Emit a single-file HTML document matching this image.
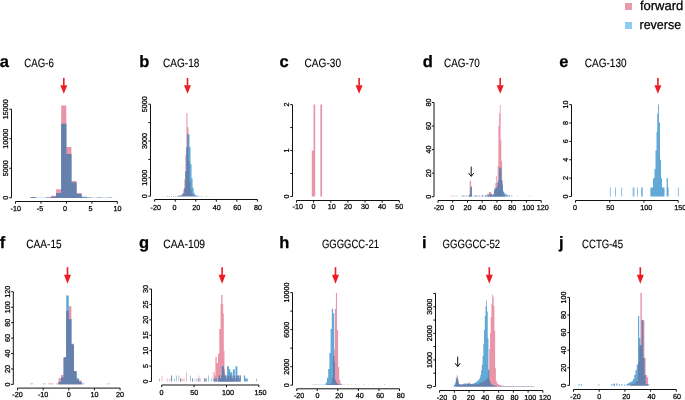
<!DOCTYPE html>
<html><head><meta charset="utf-8"><style>
html,body{margin:0;padding:0;background:#fff;}
body{width:685px;height:400px;overflow:hidden;}
svg{display:block;will-change:transform;}
text{font-family:"Liberation Sans",sans-serif;fill:#000;stroke:#000;stroke-width:0.25px;text-rendering:geometricPrecision;}
.tt{stroke-width:0.12px;}
</style></head><body>
<svg xmlns="http://www.w3.org/2000/svg" width="685" height="400" viewBox="0 0 685 400">
<rect width="685" height="400" fill="#fff"/>
<rect x="625.00" y="3.00" width="7.00" height="7.00" fill="#e99aab"/>
<rect x="625.00" y="22.00" width="7.00" height="7.00" fill="#8ecdf1"/>
<text x="639.90" y="10.30" font-size="13.0" text-anchor="start" font-weight="normal" textLength="43.4" lengthAdjust="spacingAndGlyphs">forward</text>
<text x="639.50" y="29.00" font-size="13.0" text-anchor="start" font-weight="normal" textLength="41.6" lengthAdjust="spacingAndGlyphs">reverse</text>
<text x="-0.20" y="66.50" font-size="16.5" text-anchor="start" font-weight="bold">a</text>
<text x="24.30" y="66.50" font-size="12" text-anchor="start" font-weight="normal" textLength="29.6" lengthAdjust="spacingAndGlyphs" class="tt">CAG-6</text>
<rect x="63.00" y="77.90" width="1.6" height="7.80" fill="#ec1c24"/>
<polygon points="60.30,85.20 67.30,85.20 63.80,93.80" fill="#ec1c24"/>
<line x1="11.50" y1="197.80" x2="11.50" y2="109.20" stroke="#111" stroke-width="1.0"/>
<line x1="9.30" y1="197.80" x2="11.50" y2="197.80" stroke="#111" stroke-width="1.0"/>
<line x1="9.30" y1="168.27" x2="11.50" y2="168.27" stroke="#111" stroke-width="1.0"/>
<line x1="9.30" y1="138.73" x2="11.50" y2="138.73" stroke="#111" stroke-width="1.0"/>
<line x1="9.30" y1="109.20" x2="11.50" y2="109.20" stroke="#111" stroke-width="1.0"/>
<text transform="translate(8.30,197.80) rotate(-90)" font-size="7.2" text-anchor="middle">0</text>
<text transform="translate(8.30,168.27) rotate(-90)" font-size="7.2" text-anchor="middle">5000</text>
<text transform="translate(8.30,138.73) rotate(-90)" font-size="7.2" text-anchor="middle">10000</text>
<text transform="translate(8.30,109.20) rotate(-90)" font-size="7.2" text-anchor="middle">15000</text>
<line x1="15.50" y1="201.50" x2="117.40" y2="201.50" stroke="#111" stroke-width="1.0"/>
<line x1="15.50" y1="201.50" x2="15.50" y2="203.70" stroke="#111" stroke-width="1.0"/>
<line x1="40.98" y1="201.50" x2="40.98" y2="203.70" stroke="#111" stroke-width="1.0"/>
<line x1="66.45" y1="201.50" x2="66.45" y2="203.70" stroke="#111" stroke-width="1.0"/>
<line x1="91.92" y1="201.50" x2="91.92" y2="203.70" stroke="#111" stroke-width="1.0"/>
<line x1="117.40" y1="201.50" x2="117.40" y2="203.70" stroke="#111" stroke-width="1.0"/>
<text x="15.80" y="211.40" font-size="7.2" text-anchor="middle" font-weight="normal">-10</text>
<text x="39.98" y="211.40" font-size="7.2" text-anchor="middle" font-weight="normal">-5</text>
<text x="65.05" y="211.40" font-size="7.2" text-anchor="middle" font-weight="normal">0</text>
<text x="90.52" y="211.40" font-size="7.2" text-anchor="middle" font-weight="normal">5</text>
<text x="117.60" y="211.40" font-size="7.2" text-anchor="middle" font-weight="normal">10</text>
<text x="139.20" y="66.50" font-size="16.5" text-anchor="start" font-weight="bold">b</text>
<text x="163.10" y="66.50" font-size="12" text-anchor="start" font-weight="normal" textLength="36.3" lengthAdjust="spacingAndGlyphs" class="tt">CAG-18</text>
<rect x="186.70" y="77.90" width="1.6" height="7.80" fill="#ec1c24"/>
<polygon points="184.00,85.20 191.00,85.20 187.50,93.80" fill="#ec1c24"/>
<line x1="150.50" y1="196.20" x2="150.50" y2="104.20" stroke="#111" stroke-width="1.0"/>
<line x1="148.30" y1="196.20" x2="150.50" y2="196.20" stroke="#111" stroke-width="1.0"/>
<line x1="148.30" y1="177.80" x2="150.50" y2="177.80" stroke="#111" stroke-width="1.0"/>
<line x1="148.30" y1="159.40" x2="150.50" y2="159.40" stroke="#111" stroke-width="1.0"/>
<line x1="148.30" y1="141.00" x2="150.50" y2="141.00" stroke="#111" stroke-width="1.0"/>
<line x1="148.30" y1="122.60" x2="150.50" y2="122.60" stroke="#111" stroke-width="1.0"/>
<line x1="148.30" y1="104.20" x2="150.50" y2="104.20" stroke="#111" stroke-width="1.0"/>
<text transform="translate(147.30,196.20) rotate(-90)" font-size="7.2" text-anchor="middle">0</text>
<text transform="translate(147.30,177.80) rotate(-90)" font-size="7.2" text-anchor="middle">1000</text>
<text transform="translate(147.30,141.00) rotate(-90)" font-size="7.2" text-anchor="middle">3000</text>
<text transform="translate(147.30,104.20) rotate(-90)" font-size="7.2" text-anchor="middle">5000</text>
<line x1="154.70" y1="199.50" x2="257.40" y2="199.50" stroke="#111" stroke-width="1.0"/>
<line x1="154.70" y1="199.50" x2="154.70" y2="201.70" stroke="#111" stroke-width="1.0"/>
<line x1="175.24" y1="199.50" x2="175.24" y2="201.70" stroke="#111" stroke-width="1.0"/>
<line x1="195.78" y1="199.50" x2="195.78" y2="201.70" stroke="#111" stroke-width="1.0"/>
<line x1="216.32" y1="199.50" x2="216.32" y2="201.70" stroke="#111" stroke-width="1.0"/>
<line x1="236.86" y1="199.50" x2="236.86" y2="201.70" stroke="#111" stroke-width="1.0"/>
<line x1="257.40" y1="199.50" x2="257.40" y2="201.70" stroke="#111" stroke-width="1.0"/>
<text x="155.70" y="209.80" font-size="7.2" text-anchor="middle" font-weight="normal">-20</text>
<text x="174.44" y="209.80" font-size="7.2" text-anchor="middle" font-weight="normal">0</text>
<text x="196.18" y="209.80" font-size="7.2" text-anchor="middle" font-weight="normal">20</text>
<text x="216.77" y="209.80" font-size="7.2" text-anchor="middle" font-weight="normal">40</text>
<text x="237.21" y="209.80" font-size="7.2" text-anchor="middle" font-weight="normal">60</text>
<text x="258.00" y="209.80" font-size="7.2" text-anchor="middle" font-weight="normal">80</text>
<text x="279.60" y="66.50" font-size="16.5" text-anchor="start" font-weight="bold">c</text>
<text x="304.60" y="66.50" font-size="12" text-anchor="start" font-weight="normal" textLength="36.4" lengthAdjust="spacingAndGlyphs" class="tt">CAG-30</text>
<rect x="358.30" y="77.90" width="1.6" height="7.80" fill="#ec1c24"/>
<polygon points="355.60,85.20 362.60,85.20 359.10,93.80" fill="#ec1c24"/>
<line x1="292.50" y1="196.50" x2="292.50" y2="104.60" stroke="#111" stroke-width="1.0"/>
<line x1="290.30" y1="196.50" x2="292.50" y2="196.50" stroke="#111" stroke-width="1.0"/>
<line x1="290.30" y1="173.53" x2="292.50" y2="173.53" stroke="#111" stroke-width="1.0"/>
<line x1="290.30" y1="150.55" x2="292.50" y2="150.55" stroke="#111" stroke-width="1.0"/>
<line x1="290.30" y1="127.57" x2="292.50" y2="127.57" stroke="#111" stroke-width="1.0"/>
<line x1="290.30" y1="104.60" x2="292.50" y2="104.60" stroke="#111" stroke-width="1.0"/>
<text transform="translate(289.30,196.50) rotate(-90)" font-size="7.2" text-anchor="middle">0</text>
<text transform="translate(289.30,150.55) rotate(-90)" font-size="7.2" text-anchor="middle">1</text>
<text transform="translate(289.30,104.60) rotate(-90)" font-size="7.2" text-anchor="middle">2</text>
<line x1="296.50" y1="200.50" x2="399.30" y2="200.50" stroke="#111" stroke-width="1.0"/>
<line x1="296.50" y1="200.50" x2="296.50" y2="202.70" stroke="#111" stroke-width="1.0"/>
<line x1="313.63" y1="200.50" x2="313.63" y2="202.70" stroke="#111" stroke-width="1.0"/>
<line x1="330.77" y1="200.50" x2="330.77" y2="202.70" stroke="#111" stroke-width="1.0"/>
<line x1="347.90" y1="200.50" x2="347.90" y2="202.70" stroke="#111" stroke-width="1.0"/>
<line x1="365.03" y1="200.50" x2="365.03" y2="202.70" stroke="#111" stroke-width="1.0"/>
<line x1="382.17" y1="200.50" x2="382.17" y2="202.70" stroke="#111" stroke-width="1.0"/>
<line x1="399.30" y1="200.50" x2="399.30" y2="202.70" stroke="#111" stroke-width="1.0"/>
<text x="297.80" y="209.40" font-size="7.2" text-anchor="middle" font-weight="normal">-10</text>
<text x="313.43" y="209.40" font-size="7.2" text-anchor="middle" font-weight="normal">0</text>
<text x="331.67" y="209.40" font-size="7.2" text-anchor="middle" font-weight="normal">10</text>
<text x="348.00" y="209.40" font-size="7.2" text-anchor="middle" font-weight="normal">20</text>
<text x="365.03" y="209.40" font-size="7.2" text-anchor="middle" font-weight="normal">30</text>
<text x="381.97" y="209.40" font-size="7.2" text-anchor="middle" font-weight="normal">40</text>
<text x="399.30" y="209.40" font-size="7.2" text-anchor="middle" font-weight="normal">50</text>
<text x="422.80" y="66.50" font-size="16.5" text-anchor="start" font-weight="bold">d</text>
<text x="444.10" y="66.50" font-size="12" text-anchor="start" font-weight="normal" textLength="35.8" lengthAdjust="spacingAndGlyphs" class="tt">CAG-70</text>
<rect x="499.40" y="77.90" width="1.6" height="7.80" fill="#ec1c24"/>
<polygon points="496.70,85.20 503.70,85.20 500.20,93.80" fill="#ec1c24"/>
<line x1="434.00" y1="196.70" x2="434.00" y2="102.50" stroke="#111" stroke-width="1.0"/>
<line x1="431.80" y1="196.70" x2="434.00" y2="196.70" stroke="#111" stroke-width="1.0"/>
<line x1="431.80" y1="173.15" x2="434.00" y2="173.15" stroke="#111" stroke-width="1.0"/>
<line x1="431.80" y1="149.60" x2="434.00" y2="149.60" stroke="#111" stroke-width="1.0"/>
<line x1="431.80" y1="126.05" x2="434.00" y2="126.05" stroke="#111" stroke-width="1.0"/>
<line x1="431.80" y1="102.50" x2="434.00" y2="102.50" stroke="#111" stroke-width="1.0"/>
<text transform="translate(430.90,196.70) rotate(-90)" font-size="7.2" text-anchor="middle">0</text>
<text transform="translate(430.90,173.15) rotate(-90)" font-size="7.2" text-anchor="middle">20</text>
<text transform="translate(430.90,149.60) rotate(-90)" font-size="7.2" text-anchor="middle">40</text>
<text transform="translate(430.90,126.05) rotate(-90)" font-size="7.2" text-anchor="middle">60</text>
<text transform="translate(430.90,102.50) rotate(-90)" font-size="7.2" text-anchor="middle">80</text>
<line x1="438.00" y1="200.50" x2="541.20" y2="200.50" stroke="#111" stroke-width="1.0"/>
<line x1="438.00" y1="200.50" x2="438.00" y2="202.70" stroke="#111" stroke-width="1.0"/>
<line x1="452.74" y1="200.50" x2="452.74" y2="202.70" stroke="#111" stroke-width="1.0"/>
<line x1="467.49" y1="200.50" x2="467.49" y2="202.70" stroke="#111" stroke-width="1.0"/>
<line x1="482.23" y1="200.50" x2="482.23" y2="202.70" stroke="#111" stroke-width="1.0"/>
<line x1="496.97" y1="200.50" x2="496.97" y2="202.70" stroke="#111" stroke-width="1.0"/>
<line x1="511.71" y1="200.50" x2="511.71" y2="202.70" stroke="#111" stroke-width="1.0"/>
<line x1="526.46" y1="200.50" x2="526.46" y2="202.70" stroke="#111" stroke-width="1.0"/>
<line x1="541.20" y1="200.50" x2="541.20" y2="202.70" stroke="#111" stroke-width="1.0"/>
<text x="438.85" y="209.50" font-size="7.2" text-anchor="middle" font-weight="normal">-20</text>
<text x="452.14" y="209.50" font-size="7.2" text-anchor="middle" font-weight="normal">0</text>
<text x="467.49" y="209.50" font-size="7.2" text-anchor="middle" font-weight="normal">20</text>
<text x="482.03" y="209.50" font-size="7.2" text-anchor="middle" font-weight="normal">40</text>
<text x="497.47" y="209.50" font-size="7.2" text-anchor="middle" font-weight="normal">60</text>
<text x="512.16" y="209.50" font-size="7.2" text-anchor="middle" font-weight="normal">80</text>
<text x="528.16" y="209.50" font-size="7.2" text-anchor="middle" font-weight="normal">100</text>
<text x="542.70" y="209.50" font-size="7.2" text-anchor="middle" font-weight="normal">120</text>
<line x1="471.20" y1="166.60" x2="471.20" y2="176.10" stroke="#111" stroke-width="1.0"/>
<polyline points="468.60,173.10 471.20,176.40 473.80,173.10" fill="none" stroke="#111" stroke-width="1.0"/>
<text x="559.30" y="66.50" font-size="16.5" text-anchor="start" font-weight="bold">e</text>
<text x="584.80" y="66.50" font-size="12" text-anchor="start" font-weight="normal" textLength="41.8" lengthAdjust="spacingAndGlyphs" class="tt">CAG-130</text>
<rect x="657.10" y="77.90" width="1.6" height="7.80" fill="#ec1c24"/>
<polygon points="654.40,85.20 661.40,85.20 657.90,93.80" fill="#ec1c24"/>
<line x1="571.50" y1="196.50" x2="571.50" y2="104.60" stroke="#111" stroke-width="1.0"/>
<line x1="569.30" y1="196.50" x2="571.50" y2="196.50" stroke="#111" stroke-width="1.0"/>
<line x1="569.30" y1="178.12" x2="571.50" y2="178.12" stroke="#111" stroke-width="1.0"/>
<line x1="569.30" y1="159.74" x2="571.50" y2="159.74" stroke="#111" stroke-width="1.0"/>
<line x1="569.30" y1="141.36" x2="571.50" y2="141.36" stroke="#111" stroke-width="1.0"/>
<line x1="569.30" y1="122.98" x2="571.50" y2="122.98" stroke="#111" stroke-width="1.0"/>
<line x1="569.30" y1="104.60" x2="571.50" y2="104.60" stroke="#111" stroke-width="1.0"/>
<text transform="translate(568.30,196.50) rotate(-90)" font-size="7.2" text-anchor="middle">0</text>
<text transform="translate(568.30,178.12) rotate(-90)" font-size="7.2" text-anchor="middle">2</text>
<text transform="translate(568.30,159.74) rotate(-90)" font-size="7.2" text-anchor="middle">4</text>
<text transform="translate(568.30,141.36) rotate(-90)" font-size="7.2" text-anchor="middle">6</text>
<text transform="translate(568.30,122.98) rotate(-90)" font-size="7.2" text-anchor="middle">8</text>
<text transform="translate(568.30,104.60) rotate(-90)" font-size="7.2" text-anchor="middle">10</text>
<line x1="575.50" y1="200.50" x2="678.20" y2="200.50" stroke="#111" stroke-width="1.0"/>
<line x1="575.50" y1="200.50" x2="575.50" y2="202.70" stroke="#111" stroke-width="1.0"/>
<line x1="609.73" y1="200.50" x2="609.73" y2="202.70" stroke="#111" stroke-width="1.0"/>
<line x1="643.97" y1="200.50" x2="643.97" y2="202.70" stroke="#111" stroke-width="1.0"/>
<line x1="678.20" y1="200.50" x2="678.20" y2="202.70" stroke="#111" stroke-width="1.0"/>
<text x="575.05" y="209.70" font-size="7.2" text-anchor="middle" font-weight="normal">0</text>
<text x="610.28" y="209.70" font-size="7.2" text-anchor="middle" font-weight="normal">50</text>
<text x="646.17" y="209.70" font-size="7.2" text-anchor="middle" font-weight="normal">100</text>
<text x="680.15" y="209.70" font-size="7.2" text-anchor="middle" font-weight="normal">150</text>
<text x="-0.30" y="248.30" font-size="16.5" text-anchor="start" font-weight="bold">f</text>
<text x="26.30" y="248.30" font-size="12" text-anchor="start" font-weight="normal" textLength="35.4" lengthAdjust="spacingAndGlyphs" class="tt">CAA-15</text>
<rect x="66.70" y="267.20" width="1.6" height="8.00" fill="#ec1c24"/>
<polygon points="64.00,274.70 71.00,274.70 67.50,283.80" fill="#ec1c24"/>
<line x1="13.30" y1="384.40" x2="13.30" y2="291.80" stroke="#111" stroke-width="1.0"/>
<line x1="11.10" y1="384.40" x2="13.30" y2="384.40" stroke="#111" stroke-width="1.0"/>
<line x1="11.10" y1="368.97" x2="13.30" y2="368.97" stroke="#111" stroke-width="1.0"/>
<line x1="11.10" y1="353.53" x2="13.30" y2="353.53" stroke="#111" stroke-width="1.0"/>
<line x1="11.10" y1="338.10" x2="13.30" y2="338.10" stroke="#111" stroke-width="1.0"/>
<line x1="11.10" y1="322.67" x2="13.30" y2="322.67" stroke="#111" stroke-width="1.0"/>
<line x1="11.10" y1="307.23" x2="13.30" y2="307.23" stroke="#111" stroke-width="1.0"/>
<line x1="11.10" y1="291.80" x2="13.30" y2="291.80" stroke="#111" stroke-width="1.0"/>
<text transform="translate(9.90,384.40) rotate(-90)" font-size="7.2" text-anchor="middle">0</text>
<text transform="translate(9.90,368.97) rotate(-90)" font-size="7.2" text-anchor="middle">20</text>
<text transform="translate(9.90,353.53) rotate(-90)" font-size="7.2" text-anchor="middle">40</text>
<text transform="translate(9.90,338.10) rotate(-90)" font-size="7.2" text-anchor="middle">60</text>
<text transform="translate(9.90,322.67) rotate(-90)" font-size="7.2" text-anchor="middle">80</text>
<text transform="translate(9.90,307.23) rotate(-90)" font-size="7.2" text-anchor="middle">100</text>
<text transform="translate(9.90,291.80) rotate(-90)" font-size="7.2" text-anchor="middle">120</text>
<line x1="17.50" y1="388.10" x2="120.10" y2="388.10" stroke="#111" stroke-width="1.0"/>
<line x1="17.50" y1="388.10" x2="17.50" y2="390.30" stroke="#111" stroke-width="1.0"/>
<line x1="43.15" y1="388.10" x2="43.15" y2="390.30" stroke="#111" stroke-width="1.0"/>
<line x1="68.80" y1="388.10" x2="68.80" y2="390.30" stroke="#111" stroke-width="1.0"/>
<line x1="94.45" y1="388.10" x2="94.45" y2="390.30" stroke="#111" stroke-width="1.0"/>
<line x1="120.10" y1="388.10" x2="120.10" y2="390.30" stroke="#111" stroke-width="1.0"/>
<text x="17.50" y="396.80" font-size="7.2" text-anchor="middle" font-weight="normal">-20</text>
<text x="43.15" y="396.80" font-size="7.2" text-anchor="middle" font-weight="normal">-10</text>
<text x="68.80" y="396.80" font-size="7.2" text-anchor="middle" font-weight="normal">0</text>
<text x="94.45" y="396.80" font-size="7.2" text-anchor="middle" font-weight="normal">10</text>
<text x="120.10" y="396.80" font-size="7.2" text-anchor="middle" font-weight="normal">20</text>
<text x="139.10" y="248.30" font-size="16.5" text-anchor="start" font-weight="bold">g</text>
<text x="163.30" y="248.30" font-size="12" text-anchor="start" font-weight="normal" textLength="41.8" lengthAdjust="spacingAndGlyphs" class="tt">CAA-109</text>
<rect x="221.30" y="267.20" width="1.6" height="8.00" fill="#ec1c24"/>
<polygon points="218.60,274.70 225.60,274.70 222.10,283.80" fill="#ec1c24"/>
<line x1="151.50" y1="381.50" x2="151.50" y2="289.00" stroke="#111" stroke-width="1.0"/>
<line x1="149.30" y1="381.50" x2="151.50" y2="381.50" stroke="#111" stroke-width="1.0"/>
<line x1="149.30" y1="366.08" x2="151.50" y2="366.08" stroke="#111" stroke-width="1.0"/>
<line x1="149.30" y1="350.67" x2="151.50" y2="350.67" stroke="#111" stroke-width="1.0"/>
<line x1="149.30" y1="335.25" x2="151.50" y2="335.25" stroke="#111" stroke-width="1.0"/>
<line x1="149.30" y1="319.83" x2="151.50" y2="319.83" stroke="#111" stroke-width="1.0"/>
<line x1="149.30" y1="304.42" x2="151.50" y2="304.42" stroke="#111" stroke-width="1.0"/>
<line x1="149.30" y1="289.00" x2="151.50" y2="289.00" stroke="#111" stroke-width="1.0"/>
<text transform="translate(148.30,381.50) rotate(-90)" font-size="7.2" text-anchor="middle">0</text>
<text transform="translate(148.30,366.08) rotate(-90)" font-size="7.2" text-anchor="middle">5</text>
<text transform="translate(148.30,350.67) rotate(-90)" font-size="7.2" text-anchor="middle">10</text>
<text transform="translate(148.30,335.25) rotate(-90)" font-size="7.2" text-anchor="middle">15</text>
<text transform="translate(148.30,319.83) rotate(-90)" font-size="7.2" text-anchor="middle">20</text>
<text transform="translate(148.30,304.42) rotate(-90)" font-size="7.2" text-anchor="middle">25</text>
<text transform="translate(148.30,289.00) rotate(-90)" font-size="7.2" text-anchor="middle">30</text>
<line x1="161.70" y1="385.00" x2="258.90" y2="385.00" stroke="#111" stroke-width="1.0"/>
<line x1="161.70" y1="385.00" x2="161.70" y2="387.20" stroke="#111" stroke-width="1.0"/>
<line x1="194.10" y1="385.00" x2="194.10" y2="387.20" stroke="#111" stroke-width="1.0"/>
<line x1="226.50" y1="385.00" x2="226.50" y2="387.20" stroke="#111" stroke-width="1.0"/>
<line x1="258.90" y1="385.00" x2="258.90" y2="387.20" stroke="#111" stroke-width="1.0"/>
<text x="161.40" y="394.50" font-size="7.2" text-anchor="middle" font-weight="normal">0</text>
<text x="194.35" y="394.50" font-size="7.2" text-anchor="middle" font-weight="normal">50</text>
<text x="228.00" y="394.50" font-size="7.2" text-anchor="middle" font-weight="normal">100</text>
<text x="260.50" y="394.50" font-size="7.2" text-anchor="middle" font-weight="normal">150</text>
<text x="279.20" y="248.40" font-size="16.5" text-anchor="start" font-weight="bold">h</text>
<text x="321.90" y="248.30" font-size="12" text-anchor="start" font-weight="normal" textLength="57.1" lengthAdjust="spacingAndGlyphs" class="tt">GGGGCC-21</text>
<rect x="334.70" y="267.20" width="1.6" height="8.00" fill="#ec1c24"/>
<polygon points="332.00,274.70 339.00,274.70 335.50,283.80" fill="#ec1c24"/>
<line x1="292.50" y1="385.20" x2="292.50" y2="292.60" stroke="#111" stroke-width="1.0"/>
<line x1="290.30" y1="385.20" x2="292.50" y2="385.20" stroke="#111" stroke-width="1.0"/>
<line x1="290.30" y1="366.68" x2="292.50" y2="366.68" stroke="#111" stroke-width="1.0"/>
<line x1="290.30" y1="348.16" x2="292.50" y2="348.16" stroke="#111" stroke-width="1.0"/>
<line x1="290.30" y1="329.64" x2="292.50" y2="329.64" stroke="#111" stroke-width="1.0"/>
<line x1="290.30" y1="311.12" x2="292.50" y2="311.12" stroke="#111" stroke-width="1.0"/>
<line x1="290.30" y1="292.60" x2="292.50" y2="292.60" stroke="#111" stroke-width="1.0"/>
<text transform="translate(289.30,385.20) rotate(-90)" font-size="7.2" text-anchor="middle">0</text>
<text transform="translate(289.30,366.68) rotate(-90)" font-size="7.2" text-anchor="middle">2000</text>
<text transform="translate(289.30,329.64) rotate(-90)" font-size="7.2" text-anchor="middle">6000</text>
<text transform="translate(289.30,292.60) rotate(-90)" font-size="7.2" text-anchor="middle">10000</text>
<line x1="296.70" y1="388.80" x2="399.50" y2="388.80" stroke="#111" stroke-width="1.0"/>
<line x1="296.70" y1="388.80" x2="296.70" y2="391.00" stroke="#111" stroke-width="1.0"/>
<line x1="317.26" y1="388.80" x2="317.26" y2="391.00" stroke="#111" stroke-width="1.0"/>
<line x1="337.82" y1="388.80" x2="337.82" y2="391.00" stroke="#111" stroke-width="1.0"/>
<line x1="358.38" y1="388.80" x2="358.38" y2="391.00" stroke="#111" stroke-width="1.0"/>
<line x1="378.94" y1="388.80" x2="378.94" y2="391.00" stroke="#111" stroke-width="1.0"/>
<line x1="399.50" y1="388.80" x2="399.50" y2="391.00" stroke="#111" stroke-width="1.0"/>
<text x="299.15" y="398.40" font-size="7.2" text-anchor="middle" font-weight="normal">-20</text>
<text x="317.41" y="398.40" font-size="7.2" text-anchor="middle" font-weight="normal">0</text>
<text x="339.17" y="398.40" font-size="7.2" text-anchor="middle" font-weight="normal">20</text>
<text x="359.68" y="398.40" font-size="7.2" text-anchor="middle" font-weight="normal">40</text>
<text x="380.14" y="398.40" font-size="7.2" text-anchor="middle" font-weight="normal">60</text>
<text x="400.70" y="398.40" font-size="7.2" text-anchor="middle" font-weight="normal">80</text>
<text x="422.00" y="248.40" font-size="16.5" text-anchor="start" font-weight="bold">i</text>
<text x="442.60" y="248.30" font-size="12" text-anchor="start" font-weight="normal" textLength="57.5" lengthAdjust="spacingAndGlyphs" class="tt">GGGGCC-52</text>
<rect x="488.50" y="267.20" width="1.6" height="8.00" fill="#ec1c24"/>
<polygon points="485.80,274.70 492.80,274.70 489.30,283.80" fill="#ec1c24"/>
<line x1="435.50" y1="386.50" x2="435.50" y2="293.50" stroke="#111" stroke-width="1.0"/>
<line x1="433.30" y1="386.50" x2="435.50" y2="386.50" stroke="#111" stroke-width="1.0"/>
<line x1="433.30" y1="373.21" x2="435.50" y2="373.21" stroke="#111" stroke-width="1.0"/>
<line x1="433.30" y1="359.93" x2="435.50" y2="359.93" stroke="#111" stroke-width="1.0"/>
<line x1="433.30" y1="346.64" x2="435.50" y2="346.64" stroke="#111" stroke-width="1.0"/>
<line x1="433.30" y1="333.36" x2="435.50" y2="333.36" stroke="#111" stroke-width="1.0"/>
<line x1="433.30" y1="320.07" x2="435.50" y2="320.07" stroke="#111" stroke-width="1.0"/>
<line x1="433.30" y1="306.79" x2="435.50" y2="306.79" stroke="#111" stroke-width="1.0"/>
<line x1="433.30" y1="293.50" x2="435.50" y2="293.50" stroke="#111" stroke-width="1.0"/>
<text transform="translate(432.30,386.50) rotate(-90)" font-size="7.2" text-anchor="middle">0</text>
<text transform="translate(432.30,359.93) rotate(-90)" font-size="7.2" text-anchor="middle">1000</text>
<text transform="translate(432.30,333.36) rotate(-90)" font-size="7.2" text-anchor="middle">2000</text>
<text transform="translate(432.30,306.79) rotate(-90)" font-size="7.2" text-anchor="middle">3000</text>
<line x1="439.60" y1="390.50" x2="542.90" y2="390.50" stroke="#111" stroke-width="1.0"/>
<line x1="439.60" y1="390.50" x2="439.60" y2="392.70" stroke="#111" stroke-width="1.0"/>
<line x1="454.36" y1="390.50" x2="454.36" y2="392.70" stroke="#111" stroke-width="1.0"/>
<line x1="469.11" y1="390.50" x2="469.11" y2="392.70" stroke="#111" stroke-width="1.0"/>
<line x1="483.87" y1="390.50" x2="483.87" y2="392.70" stroke="#111" stroke-width="1.0"/>
<line x1="498.63" y1="390.50" x2="498.63" y2="392.70" stroke="#111" stroke-width="1.0"/>
<line x1="513.39" y1="390.50" x2="513.39" y2="392.70" stroke="#111" stroke-width="1.0"/>
<line x1="528.14" y1="390.50" x2="528.14" y2="392.70" stroke="#111" stroke-width="1.0"/>
<line x1="542.90" y1="390.50" x2="542.90" y2="392.70" stroke="#111" stroke-width="1.0"/>
<text x="442.05" y="400.40" font-size="7.2" text-anchor="middle" font-weight="normal">-20</text>
<text x="454.46" y="400.40" font-size="7.2" text-anchor="middle" font-weight="normal">0</text>
<text x="470.71" y="400.40" font-size="7.2" text-anchor="middle" font-weight="normal">20</text>
<text x="485.37" y="400.40" font-size="7.2" text-anchor="middle" font-weight="normal">40</text>
<text x="499.98" y="400.40" font-size="7.2" text-anchor="middle" font-weight="normal">60</text>
<text x="514.49" y="400.40" font-size="7.2" text-anchor="middle" font-weight="normal">80</text>
<text x="530.34" y="400.40" font-size="7.2" text-anchor="middle" font-weight="normal">100</text>
<text x="545.00" y="400.40" font-size="7.2" text-anchor="middle" font-weight="normal">120</text>
<line x1="457.70" y1="356.70" x2="457.70" y2="366.20" stroke="#111" stroke-width="1.0"/>
<polyline points="455.10,363.20 457.70,366.50 460.30,363.20" fill="none" stroke="#111" stroke-width="1.0"/>
<text x="559.10" y="248.40" font-size="16.5" text-anchor="start" font-weight="bold">j</text>
<text x="582.10" y="248.30" font-size="12" text-anchor="start" font-weight="normal" textLength="40.9" lengthAdjust="spacingAndGlyphs" class="tt">CCTG-45</text>
<rect x="639.50" y="267.20" width="1.6" height="8.00" fill="#ec1c24"/>
<polygon points="636.80,274.70 643.80,274.70 640.30,283.80" fill="#ec1c24"/>
<line x1="569.50" y1="385.40" x2="569.50" y2="297.40" stroke="#111" stroke-width="1.0"/>
<line x1="567.30" y1="385.40" x2="569.50" y2="385.40" stroke="#111" stroke-width="1.0"/>
<line x1="567.30" y1="367.80" x2="569.50" y2="367.80" stroke="#111" stroke-width="1.0"/>
<line x1="567.30" y1="350.20" x2="569.50" y2="350.20" stroke="#111" stroke-width="1.0"/>
<line x1="567.30" y1="332.60" x2="569.50" y2="332.60" stroke="#111" stroke-width="1.0"/>
<line x1="567.30" y1="315.00" x2="569.50" y2="315.00" stroke="#111" stroke-width="1.0"/>
<line x1="567.30" y1="297.40" x2="569.50" y2="297.40" stroke="#111" stroke-width="1.0"/>
<text transform="translate(566.30,385.40) rotate(-90)" font-size="7.2" text-anchor="middle">0</text>
<text transform="translate(566.30,367.80) rotate(-90)" font-size="7.2" text-anchor="middle">20</text>
<text transform="translate(566.30,350.20) rotate(-90)" font-size="7.2" text-anchor="middle">40</text>
<text transform="translate(566.30,332.60) rotate(-90)" font-size="7.2" text-anchor="middle">60</text>
<text transform="translate(566.30,315.00) rotate(-90)" font-size="7.2" text-anchor="middle">80</text>
<text transform="translate(566.30,297.40) rotate(-90)" font-size="7.2" text-anchor="middle">100</text>
<line x1="573.50" y1="389.50" x2="676.30" y2="389.50" stroke="#111" stroke-width="1.0"/>
<line x1="573.50" y1="389.50" x2="573.50" y2="391.70" stroke="#111" stroke-width="1.0"/>
<line x1="599.20" y1="389.50" x2="599.20" y2="391.70" stroke="#111" stroke-width="1.0"/>
<line x1="624.90" y1="389.50" x2="624.90" y2="391.70" stroke="#111" stroke-width="1.0"/>
<line x1="650.60" y1="389.50" x2="650.60" y2="391.70" stroke="#111" stroke-width="1.0"/>
<line x1="676.30" y1="389.50" x2="676.30" y2="391.70" stroke="#111" stroke-width="1.0"/>
<text x="575.45" y="399.00" font-size="7.2" text-anchor="middle" font-weight="normal">-20</text>
<text x="599.20" y="399.00" font-size="7.2" text-anchor="middle" font-weight="normal">0</text>
<text x="626.30" y="399.00" font-size="7.2" text-anchor="middle" font-weight="normal">20</text>
<text x="651.60" y="399.00" font-size="7.2" text-anchor="middle" font-weight="normal">40</text>
<text x="676.95" y="399.00" font-size="7.2" text-anchor="middle" font-weight="normal">60</text>
<path d="M30.63,197.90 L30.63,197.20 L35.73,197.20 L35.73,197.90Z M45.92,197.90 L45.92,197.30 L51.02,197.30 L51.02,195.80 L56.11,195.80 L56.11,189.20 L61.20,189.20 L61.20,105.50 L66.30,105.50 L66.30,146.90 L71.39,146.90 L71.39,181.00 L76.49,181.00 L76.49,193.10 L81.58,193.10 L81.58,197.40 L86.68,197.40 L86.68,197.40 L91.77,197.40 L91.77,197.90Z M96.87,197.90 L96.87,197.85 L101.97,197.85 L101.97,197.90Z M107.06,197.90 L107.06,197.85 L112.16,197.85 L112.16,197.90Z " fill="#ea94a8"/>
<path d="M30.63,197.90 L30.63,197.20 L35.73,197.20 L35.73,197.75 L40.82,197.75 L40.82,197.75 L45.92,197.75 L45.92,197.70 L51.02,197.70 L51.02,196.80 L56.11,196.80 L56.11,192.90 L61.20,192.90 L61.20,123.70 L66.30,123.70 L66.30,153.90 L71.39,153.90 L71.39,182.60 L76.49,182.60 L76.49,194.00 L81.58,194.00 L81.58,196.80 L86.68,196.80 L86.68,197.80 L91.77,197.80 L91.78,197.75 L96.87,197.75 L96.87,197.75 L101.97,197.75 L101.97,197.75 L107.06,197.75 L107.06,197.75 L112.16,197.75 L112.16,197.90Z " fill="#63a9d5"/>
<path d="M30.63,197.90 L30.63,197.20 L35.73,197.20 L35.73,197.90Z M45.92,197.90 L45.92,197.70 L51.02,197.70 L51.02,196.80 L56.11,196.80 L56.11,192.90 L61.20,192.90 L61.20,123.70 L66.30,123.70 L66.30,153.90 L71.39,153.90 L71.39,182.60 L76.49,182.60 L76.49,194.00 L81.58,194.00 L81.58,197.40 L86.68,197.40 L86.68,197.80 L91.77,197.80 L91.77,197.90Z M96.87,197.90 L96.87,197.85 L101.97,197.85 L101.97,197.90Z M107.06,197.90 L107.06,197.85 L112.16,197.85 L112.16,197.90Z " fill="#6680ad"/>
<path d="M166.88,196.20 L166.88,196.00 L167.90,196.00 L167.90,196.20Z M168.93,196.20 L168.93,195.90 L169.96,195.90 L169.96,196.20Z M170.99,196.20 L170.99,195.90 L172.02,195.90 L172.02,196.20Z M173.04,196.20 L173.04,195.90 L174.07,195.90 L174.07,196.20Z M175.10,196.20 L175.10,195.90 L176.13,195.90 L176.13,196.20Z M177.16,196.20 L177.16,195.80 L178.18,195.80 L178.18,195.80 L179.21,195.80 L179.21,195.70 L180.24,195.70 L180.24,195.40 L181.27,195.40 L181.27,194.70 L182.30,194.70 L182.30,193.20 L183.32,193.20 L183.32,189.20 L184.35,189.20 L184.35,179.20 L185.38,179.20 L185.38,155.20 L186.41,155.20 L186.41,113.20 L187.44,113.20 L187.44,127.20 L188.46,127.20 L188.46,161.20 L189.49,161.20 L189.49,181.20 L190.52,181.20 L190.52,190.20 L191.55,190.20 L191.55,193.70 L192.58,193.70 L192.58,195.20 L193.60,195.20 L193.60,195.70 L194.63,195.70 L194.63,195.90 L195.66,195.90 L195.66,195.90 L196.69,195.90 L196.69,196.20Z M197.72,196.20 L197.72,196.00 L198.74,196.00 L198.74,196.20Z M200.80,196.20 L200.80,196.00 L201.83,196.00 L201.83,196.20Z M205.94,196.20 L205.94,196.00 L206.97,196.00 L206.97,196.20Z M214.16,196.20 L214.16,196.00 L215.19,196.00 L215.19,196.20Z " fill="#ea94a8"/>
<path d="M166.88,196.20 L166.88,195.90 L167.90,195.90 L167.90,196.20Z M168.93,196.20 L168.93,195.90 L169.96,195.90 L169.96,196.20Z M170.99,196.20 L170.99,195.90 L172.02,195.90 L172.02,196.20Z M173.04,196.20 L173.04,195.90 L174.07,195.90 L174.07,196.20Z M175.10,196.20 L175.10,195.90 L176.13,195.90 L176.13,196.20Z M177.16,196.20 L177.16,195.90 L178.18,195.90 L178.18,195.90 L179.21,195.90 L179.21,195.80 L180.24,195.80 L180.24,195.70 L181.27,195.70 L181.27,195.40 L182.30,195.40 L182.30,194.70 L183.32,194.70 L183.32,193.20 L184.35,193.20 L184.35,188.20 L185.38,188.20 L185.38,171.20 L186.41,171.20 L186.41,147.20 L187.44,147.20 L187.44,134.20 L188.46,134.20 L188.46,134.20 L189.49,134.20 L189.49,147.20 L190.52,147.20 L190.52,164.20 L191.55,164.20 L191.55,178.20 L192.58,178.20 L192.58,187.70 L193.60,187.70 L193.60,192.70 L194.63,192.70 L194.63,194.70 L195.66,194.70 L195.66,195.40 L196.69,195.40 L196.69,195.70 L197.72,195.70 L197.72,195.80 L198.74,195.80 L198.74,196.20Z M199.77,196.20 L199.77,195.90 L200.80,195.90 L200.80,196.20Z M201.83,196.20 L201.83,195.90 L202.86,195.90 L202.86,196.20Z M205.94,196.20 L205.94,196.00 L206.97,196.00 L206.97,196.20Z M211.08,196.20 L211.08,196.00 L212.11,196.00 L212.11,196.20Z " fill="#63a9d5"/>
<path d="M166.88,196.20 L166.88,196.00 L167.90,196.00 L167.90,196.20Z M168.93,196.20 L168.93,195.90 L169.96,195.90 L169.96,196.20Z M170.99,196.20 L170.99,195.90 L172.02,195.90 L172.02,196.20Z M173.04,196.20 L173.04,195.90 L174.07,195.90 L174.07,196.20Z M175.10,196.20 L175.10,195.90 L176.13,195.90 L176.13,196.20Z M177.16,196.20 L177.16,195.90 L178.18,195.90 L178.18,195.90 L179.21,195.90 L179.21,195.80 L180.24,195.80 L180.24,195.70 L181.27,195.70 L181.27,195.40 L182.30,195.40 L182.30,194.70 L183.32,194.70 L183.32,193.20 L184.35,193.20 L184.35,188.20 L185.38,188.20 L185.38,171.20 L186.41,171.20 L186.41,147.20 L187.44,147.20 L187.44,134.20 L188.46,134.20 L188.46,161.20 L189.49,161.20 L189.49,181.20 L190.52,181.20 L190.52,190.20 L191.55,190.20 L191.55,193.70 L192.58,193.70 L192.58,195.20 L193.60,195.20 L193.60,195.70 L194.63,195.70 L194.63,195.90 L195.66,195.90 L195.66,195.90 L196.69,195.90 L196.69,196.20Z M197.72,196.20 L197.72,196.00 L198.74,196.00 L198.74,196.20Z M205.94,196.20 L205.94,196.00 L206.97,196.00 L206.97,196.20Z " fill="#6680ad"/>
<path d="M311.79,196.60 L311.79,150.55 L313.50,150.55 L313.50,104.50 L315.21,104.50 L315.21,196.60Z M320.36,196.60 L320.36,104.50 L322.07,104.50 L322.07,196.60Z M451.23,196.60 L451.23,195.42 L451.96,195.42 L451.96,196.60Z M452.70,196.60 L452.70,195.42 L453.44,195.42 L453.44,196.60Z M454.17,196.60 L454.17,195.42 L454.91,195.42 L454.91,196.60Z M456.38,196.60 L456.38,195.42 L457.12,195.42 L457.12,196.60Z M462.28,196.60 L462.28,195.42 L463.02,195.42 L463.02,196.60Z M464.49,196.60 L464.49,195.42 L465.23,195.42 L465.23,196.60Z M468.91,196.60 L468.91,195.42 L469.65,195.42 L469.65,181.32 L470.39,181.32 L470.39,180.15 L471.12,180.15 L471.12,186.03 L471.86,186.03 L471.86,196.60Z M472.60,196.60 L472.60,195.42 L473.34,195.42 L473.34,196.60Z M475.55,196.60 L475.55,195.42 L476.28,195.42 L476.28,196.60Z M478.50,196.60 L478.50,195.42 L479.23,195.42 L479.23,196.60Z M482.18,196.60 L482.18,195.42 L482.92,195.42 L482.92,196.60Z M485.13,196.60 L485.13,195.42 L485.87,195.42 L485.87,196.60Z M486.60,196.60 L486.60,194.25 L487.34,194.25 L487.34,196.60Z M488.08,196.60 L488.08,194.25 L488.81,194.25 L488.81,191.90 L489.55,191.90 L489.55,191.90 L490.29,191.90 L490.29,191.90 L491.02,191.90 L491.02,193.07 L491.76,193.07 L491.76,195.42 L492.50,195.42 L492.50,195.42 L493.24,195.42 L493.24,194.25 L493.97,194.25 L493.97,190.72 L494.71,190.72 L494.71,187.20 L495.45,187.20 L495.45,182.97 L496.18,182.97 L496.18,176.04 L496.92,176.04 L496.92,182.50 L497.66,182.50 L497.66,166.05 L498.39,166.05 L498.39,126.10 L499.13,126.10 L499.13,113.17 L499.87,113.17 L499.87,104.95 L500.61,104.95 L500.61,140.20 L501.34,140.20 L501.34,161.35 L502.08,161.35 L502.08,180.15 L502.82,180.15 L502.82,191.90 L503.55,191.90 L503.55,194.25 L504.29,194.25 L504.29,195.42 L505.03,195.42 L505.03,196.60Z M508.71,196.60 L508.71,194.84 L509.45,194.84 L509.45,196.60Z M511.66,196.60 L511.66,195.42 L512.40,195.42 L512.40,196.60Z M517.56,196.60 L517.56,195.42 L518.29,195.42 L518.29,196.60Z M529.35,196.60 L529.35,195.42 L530.08,195.42 L530.08,196.60Z " fill="#ea94a8"/>
<path d="M461.54,196.60 L461.54,195.42 L462.28,195.42 L462.28,196.60Z M463.02,196.60 L463.02,195.42 L463.75,195.42 L463.75,195.42 L464.49,195.42 L464.49,196.60Z M465.97,196.60 L465.97,195.42 L466.70,195.42 L466.70,196.60Z M467.44,196.60 L467.44,195.42 L468.18,195.42 L468.18,196.60Z M468.91,196.60 L468.91,195.42 L469.65,195.42 L469.65,194.25 L470.39,194.25 L470.39,187.20 L471.12,187.20 L471.12,187.20 L471.86,187.20 L471.86,196.60Z M474.07,196.60 L474.07,195.42 L474.81,195.42 L474.81,196.60Z M475.55,196.60 L475.55,195.42 L476.28,195.42 L476.28,196.60Z M477.02,196.60 L477.02,195.42 L477.76,195.42 L477.76,196.60Z M479.23,196.60 L479.23,195.42 L479.97,195.42 L479.97,196.60Z M480.71,196.60 L480.71,195.42 L481.44,195.42 L481.44,196.60Z M482.18,196.60 L482.18,195.42 L482.92,195.42 L482.92,196.60Z M483.65,196.60 L483.65,195.42 L484.39,195.42 L484.39,196.60Z M485.13,196.60 L485.13,195.42 L485.87,195.42 L485.87,196.60Z M486.60,196.60 L486.60,195.42 L487.34,195.42 L487.34,194.25 L488.08,194.25 L488.08,194.84 L488.81,194.84 L488.81,196.60Z M489.55,196.60 L489.55,194.25 L490.29,194.25 L490.29,194.25 L491.02,194.25 L491.02,194.25 L491.76,194.25 L491.76,194.84 L492.50,194.84 L492.50,194.84 L493.24,194.84 L493.24,194.25 L493.97,194.25 L493.97,190.72 L494.71,190.72 L494.71,188.73 L495.45,188.73 L495.45,188.73 L496.18,188.73 L496.18,187.55 L496.92,187.55 L496.92,187.20 L497.66,187.20 L497.66,182.50 L498.39,182.50 L498.39,180.15 L499.13,180.15 L499.13,168.40 L499.87,168.40 L499.87,167.22 L500.61,167.22 L500.61,168.40 L501.34,168.40 L501.34,180.15 L502.08,180.15 L502.08,184.85 L502.82,184.85 L502.82,190.72 L503.55,190.72 L503.55,191.90 L504.29,191.90 L504.29,193.54 L505.03,193.54 L505.03,193.54 L505.76,193.54 L505.76,194.84 L506.50,194.84 L506.50,194.84 L507.24,194.84 L507.24,194.84 L507.98,194.84 L507.98,196.60Z M508.71,196.60 L508.71,195.42 L509.45,195.42 L509.45,196.60Z M510.92,196.60 L510.92,195.42 L511.66,195.42 L511.66,196.60Z M609.90,196.60 L609.90,187.38 L610.60,187.38 L610.60,196.60Z M615.00,196.60 L615.00,187.38 L615.70,187.38 L615.70,196.60Z M621.40,196.60 L621.40,187.38 L622.10,187.38 L622.10,196.60Z M632.70,196.60 L632.70,187.38 L633.40,187.38 L633.40,196.60Z M633.70,196.60 L633.70,187.38 L634.40,187.38 L634.40,196.60Z M637.30,196.60 L637.30,187.38 L638.00,187.38 L638.00,196.60Z M641.30,196.60 L641.30,187.38 L642.00,187.38 L642.00,187.38 L642.70,187.38 L642.70,196.60Z M650.40,196.60 L650.40,187.38 L653.00,187.38 L653.00,178.16 L654.50,178.16 L654.50,168.94 L655.50,168.94 L655.50,150.50 L656.50,150.50 L656.50,132.06 L657.25,132.06 L657.25,113.62 L658.10,113.62 L658.10,104.40 L659.00,104.40 L659.00,122.84 L660.00,122.84 L660.00,159.72 L661.00,159.72 L661.00,178.16 L662.00,178.16 L662.00,187.38 L664.50,187.38 L664.50,196.60Z M666.60,196.60 L666.60,178.16 L667.90,178.16 L667.90,187.38 L668.60,187.38 L668.60,196.60Z M677.90,196.60 L677.90,187.38 L678.60,187.38 L678.60,196.60Z " fill="#63a9d5"/>
<path d="M468.91,196.60 L468.91,195.42 L469.65,195.42 L469.65,194.25 L470.39,194.25 L470.39,187.20 L471.12,187.20 L471.12,187.20 L471.86,187.20 L471.86,196.60Z M475.55,196.60 L475.55,195.42 L476.28,195.42 L476.28,196.60Z M482.18,196.60 L482.18,195.42 L482.92,195.42 L482.92,196.60Z M485.13,196.60 L485.13,195.42 L485.87,195.42 L485.87,196.60Z M486.60,196.60 L486.60,195.42 L487.34,195.42 L487.34,196.60Z M488.08,196.60 L488.08,194.84 L488.81,194.84 L488.81,196.60Z M489.55,196.60 L489.55,194.25 L490.29,194.25 L490.29,194.25 L491.02,194.25 L491.02,194.25 L491.76,194.25 L491.76,195.42 L492.50,195.42 L492.50,195.42 L493.24,195.42 L493.24,194.25 L493.97,194.25 L493.97,190.72 L494.71,190.72 L494.71,188.73 L495.45,188.73 L495.45,188.73 L496.18,188.73 L496.18,187.55 L496.92,187.55 L496.92,187.20 L497.66,187.20 L497.66,182.50 L498.39,182.50 L498.39,180.15 L499.13,180.15 L499.13,168.40 L499.87,168.40 L499.87,167.22 L500.61,167.22 L500.61,168.40 L501.34,168.40 L501.34,180.15 L502.08,180.15 L502.08,184.85 L502.82,184.85 L502.82,191.90 L503.55,191.90 L503.55,194.25 L504.29,194.25 L504.29,195.42 L505.03,195.42 L505.03,196.60Z M508.71,196.60 L508.71,195.42 L509.45,195.42 L509.45,196.60Z " fill="#6680ad"/>
<path d="M43.15,384.30 L43.15,383.53 L45.71,383.53 L45.71,384.30Z M48.28,384.30 L48.28,383.53 L50.84,383.53 L50.84,383.53 L53.41,383.53 L53.41,384.30Z M55.97,384.30 L55.97,383.53 L58.54,383.53 L58.54,378.17 L61.10,378.17 L61.10,375.11 L63.67,375.11 L63.67,357.49 L66.23,357.49 L66.23,310.76 L68.80,310.76 L68.80,306.17 L71.36,306.17 L71.36,343.70 L73.93,343.70 L73.93,371.28 L76.49,371.28 L76.50,379.70 L79.06,379.70 L79.06,380.47 L81.62,380.47 L81.62,384.30Z M107.28,384.30 L107.28,383.53 L109.84,383.53 L109.84,384.30Z " fill="#ea94a8"/>
<path d="M30.32,384.30 L30.32,383.53 L32.89,383.53 L32.89,384.30Z M58.54,384.30 L58.54,382.00 L61.10,382.00 L61.10,377.41 L63.67,377.41 L63.67,357.49 L66.23,357.49 L66.23,295.44 L68.80,295.44 L68.80,319.19 L71.36,319.19 L71.36,344.47 L73.93,344.47 L73.93,371.28 L76.49,371.28 L76.50,378.17 L79.06,378.17 L79.06,382.00 L81.62,382.00 L81.62,383.53 L84.19,383.53 L84.19,384.30Z " fill="#63a9d5"/>
<path d="M58.54,384.30 L58.54,382.00 L61.10,382.00 L61.10,377.41 L63.67,377.41 L63.67,357.49 L66.23,357.49 L66.23,310.76 L68.80,310.76 L68.80,319.19 L71.36,319.19 L71.36,344.47 L73.93,344.47 L73.93,371.28 L76.49,371.28 L76.50,379.70 L79.06,379.70 L79.06,382.00 L81.62,382.00 L81.62,384.30Z " fill="#6680ad"/>
<path d="M161.70,381.60 L161.70,375.41 L162.35,375.41 L162.35,381.60Z M166.88,381.60 L166.88,378.51 L167.52,378.51 L167.52,381.60Z M169.46,381.60 L169.46,378.51 L170.11,378.51 L170.11,381.60Z M171.41,381.60 L171.41,375.41 L172.05,375.41 L172.05,381.60Z M178.52,381.60 L178.52,375.41 L179.17,375.41 L179.17,381.60Z M180.46,381.60 L180.46,378.51 L181.11,378.51 L181.11,381.60Z M182.40,381.60 L182.40,378.51 L183.05,378.51 L183.05,381.60Z M183.70,381.60 L183.70,378.51 L184.34,378.51 L184.34,381.60Z M186.29,381.60 L186.29,372.32 L186.93,372.32 L186.93,381.60Z M192.11,381.60 L192.11,378.51 L192.76,378.51 L192.76,381.60Z M194.70,381.60 L194.70,378.51 L195.34,378.51 L195.34,381.60Z M198.58,381.60 L198.58,375.41 L199.23,375.41 L199.23,381.60Z M200.52,381.60 L200.52,378.51 L201.17,378.51 L201.17,381.60Z M204.40,381.60 L204.40,378.51 L205.05,378.51 L205.05,381.60Z M205.70,381.60 L205.70,378.51 L206.34,378.51 L206.34,381.60Z M212.81,381.60 L212.81,372.32 L213.46,372.32 L213.46,381.60Z M214.11,381.60 L214.11,372.32 L214.75,372.32 L214.75,375.41 L215.40,375.41 L215.40,356.86 L216.05,356.86 L216.05,356.86 L216.69,356.86 L216.69,363.04 L217.34,363.04 L217.34,363.04 L217.99,363.04 L217.99,353.76 L218.64,353.76 L218.64,353.76 L219.28,353.76 L219.28,329.02 L219.93,329.02 L219.93,329.02 L220.58,329.02 L220.58,304.28 L221.22,304.28 L221.22,295.00 L221.87,295.00 L221.87,295.00 L222.52,295.00 L222.52,304.28 L223.16,304.28 L223.16,313.55 L223.81,313.55 L223.81,350.67 L224.46,350.67 L224.46,369.23 L225.11,369.23 L225.11,375.41 L225.75,375.41 L225.75,378.51 L226.40,378.51 L226.40,375.41 L227.05,375.41 L227.05,375.41 L227.69,375.41 L227.69,375.41 L228.34,375.41 L228.34,375.41 L228.99,375.41 L228.99,375.41 L229.63,375.41 L229.63,378.51 L230.28,378.51 L230.28,375.41 L230.93,375.41 L230.93,375.41 L231.58,375.41 L231.58,378.51 L232.22,378.51 L232.22,375.41 L232.87,375.41 L232.87,375.41 L233.52,375.41 L233.52,378.51 L234.16,378.51 L234.16,375.41 L234.81,375.41 L234.81,375.41 L235.46,375.41 L235.46,378.51 L236.10,378.51 L236.10,375.41 L236.75,375.41 L236.75,375.41 L237.40,375.41 L237.40,378.51 L238.05,378.51 L238.05,375.41 L238.69,375.41 L238.69,375.41 L239.34,375.41 L239.34,378.51 L239.99,378.51 L239.99,375.41 L240.63,375.41 L240.63,381.60Z " fill="#ea94a8"/>
<path d="M159.11,381.60 L159.11,378.51 L159.76,378.51 L159.76,381.60Z M171.41,381.60 L171.41,375.41 L172.05,375.41 L172.05,381.60Z M173.99,381.60 L173.99,378.51 L174.64,378.51 L174.64,381.60Z M175.93,381.60 L175.93,375.41 L176.58,375.41 L176.58,381.60Z M180.46,381.60 L180.46,378.51 L181.11,378.51 L181.11,381.60Z M190.17,381.60 L190.17,375.41 L190.81,375.41 L190.81,381.60Z M192.11,381.60 L192.11,378.51 L192.76,378.51 L192.76,381.60Z M196.64,381.60 L196.64,378.51 L197.28,378.51 L197.28,381.60Z M198.58,381.60 L198.58,378.51 L199.23,378.51 L199.23,381.60Z M204.40,381.60 L204.40,378.51 L205.05,378.51 L205.05,381.60Z M205.70,381.60 L205.70,378.51 L206.34,378.51 L206.34,381.60Z M208.28,381.60 L208.28,375.41 L208.93,375.41 L208.93,381.60Z M210.87,381.60 L210.87,378.51 L211.52,378.51 L211.52,381.60Z M213.46,381.60 L213.46,378.51 L214.11,378.51 L214.11,378.51 L214.75,378.51 L214.75,381.60Z M215.40,381.60 L215.40,378.51 L216.05,378.51 L216.05,378.51 L216.69,378.51 L216.69,381.60Z M217.99,381.60 L217.99,378.51 L218.64,378.51 L218.64,375.41 L219.28,375.41 L219.28,375.41 L219.93,375.41 L219.93,378.51 L220.58,378.51 L220.58,378.51 L221.22,378.51 L221.22,375.41 L221.87,375.41 L221.87,366.14 L222.52,366.14 L222.52,366.14 L223.16,366.14 L223.16,366.14 L223.81,366.14 L223.81,372.32 L224.46,372.32 L224.46,375.41 L225.11,375.41 L225.11,375.41 L225.75,375.41 L225.75,375.41 L226.40,375.41 L226.40,378.51 L227.05,378.51 L227.05,366.14 L227.69,366.14 L227.69,366.14 L228.34,366.14 L228.34,366.14 L228.99,366.14 L228.99,369.23 L229.63,369.23 L229.63,369.23 L230.28,369.23 L230.28,372.32 L230.93,372.32 L230.93,372.32 L231.58,372.32 L231.58,372.32 L232.22,372.32 L232.22,378.51 L232.87,378.51 L232.87,369.23 L233.52,369.23 L233.52,369.23 L234.16,369.23 L234.16,369.23 L234.81,369.23 L234.81,381.60Z M235.46,381.60 L235.46,366.14 L236.10,366.14 L236.10,366.14 L236.75,366.14 L236.75,366.14 L237.40,366.14 L237.40,375.41 L238.05,375.41 L238.05,375.41 L238.69,375.41 L238.69,381.60Z M239.34,381.60 L239.34,375.41 L239.99,375.41 L239.99,375.41 L240.63,375.41 L240.63,381.60Z M243.87,381.60 L243.87,375.41 L244.52,375.41 L244.52,375.41 L245.16,375.41 L245.16,378.51 L245.81,378.51 L245.81,378.51 L246.46,378.51 L246.46,378.51 L247.10,378.51 L247.10,378.51 L247.75,378.51 L247.75,381.60Z M256.16,381.60 L256.16,378.51 L256.81,378.51 L256.81,381.60Z " fill="#63a9d5"/>
<path d="M171.41,381.60 L171.41,375.41 L172.05,375.41 L172.05,381.60Z M180.46,381.60 L180.46,378.51 L181.11,378.51 L181.11,381.60Z M192.11,381.60 L192.11,378.51 L192.76,378.51 L192.76,381.60Z M198.58,381.60 L198.58,378.51 L199.23,378.51 L199.23,381.60Z M204.40,381.60 L204.40,378.51 L205.05,378.51 L205.05,381.60Z M205.70,381.60 L205.70,378.51 L206.34,378.51 L206.34,381.60Z M214.11,381.60 L214.11,378.51 L214.75,378.51 L214.75,381.60Z M215.40,381.60 L215.40,378.51 L216.05,378.51 L216.05,378.51 L216.69,378.51 L216.69,381.60Z M217.99,381.60 L217.99,378.51 L218.64,378.51 L218.64,375.41 L219.28,375.41 L219.28,375.41 L219.93,375.41 L219.93,378.51 L220.58,378.51 L220.58,378.51 L221.22,378.51 L221.22,375.41 L221.87,375.41 L221.87,366.14 L222.52,366.14 L222.52,366.14 L223.16,366.14 L223.16,366.14 L223.81,366.14 L223.81,372.32 L224.46,372.32 L224.46,375.41 L225.11,375.41 L225.11,375.41 L225.75,375.41 L225.75,378.51 L226.40,378.51 L226.40,378.51 L227.05,378.51 L227.05,375.41 L227.69,375.41 L227.69,375.41 L228.34,375.41 L228.34,375.41 L228.99,375.41 L228.99,375.41 L229.63,375.41 L229.63,378.51 L230.28,378.51 L230.28,375.41 L230.93,375.41 L230.93,375.41 L231.58,375.41 L231.58,378.51 L232.22,378.51 L232.22,378.51 L232.87,378.51 L232.87,375.41 L233.52,375.41 L233.52,378.51 L234.16,378.51 L234.16,375.41 L234.81,375.41 L234.81,381.60Z M235.46,381.60 L235.46,378.51 L236.10,378.51 L236.10,375.41 L236.75,375.41 L236.75,375.41 L237.40,375.41 L237.40,378.51 L238.05,378.51 L238.05,375.41 L238.69,375.41 L238.69,381.60Z M239.34,381.60 L239.34,378.51 L239.99,378.51 L239.99,375.41 L240.63,375.41 L240.63,381.60Z " fill="#6680ad"/>
<path d="M325.80,385.00 L325.80,384.70 L327.00,384.70 L327.00,384.60 L328.20,384.60 L328.20,384.40 L329.40,384.40 L329.40,384.00 L330.60,384.00 L330.60,383.20 L331.80,383.20 L331.80,378.00 L333.00,378.00 L333.00,356.00 L334.20,356.00 L334.20,349.00 L334.90,349.00 L334.90,309.00 L335.90,309.00 L335.90,293.00 L337.00,293.00 L337.00,330.00 L338.10,330.00 L338.10,367.00 L339.20,367.00 L339.20,380.00 L340.30,380.00 L340.30,383.50 L341.50,383.50 L341.50,384.50 L342.00,384.50 L342.00,384.70 L346.00,384.70 L346.00,385.00Z M347.50,385.00 L347.50,384.60 L349.00,384.60 L349.00,385.00Z M351.00,385.00 L351.00,384.70 L352.50,384.70 L352.50,385.00Z M355.00,385.00 L355.00,384.60 L356.50,384.60 L356.50,385.00Z M359.00,385.00 L359.00,384.70 L360.00,384.70 L360.00,385.00Z M363.50,385.00 L363.50,384.60 L365.00,384.60 L365.00,385.00Z M368.00,385.00 L368.00,384.70 L369.00,384.70 L369.00,385.00Z M372.00,385.00 L372.00,384.70 L373.50,384.70 L373.50,385.00Z " fill="#ea94a8"/>
<path d="M312.00,385.00 L312.00,384.80 L325.80,384.80 L325.80,382.30 L327.00,382.30 L327.00,377.70 L328.20,377.70 L328.20,368.90 L329.40,368.90 L329.40,353.00 L330.60,353.00 L330.60,329.00 L331.80,329.00 L331.80,308.80 L333.00,308.80 L333.00,313.20 L334.20,313.20 L334.20,362.00 L334.90,362.00 L334.90,380.00 L335.90,380.00 L335.90,382.50 L337.00,382.50 L337.00,383.80 L338.10,383.80 L338.10,384.40 L339.20,384.40 L339.20,384.70 L340.30,384.70 L340.30,384.80 L341.50,384.80 L341.50,385.00Z M384.00,385.00 L384.00,384.50 L385.00,384.50 L385.00,385.00Z " fill="#63a9d5"/>
<path d="M325.80,385.00 L325.80,384.70 L327.00,384.70 L327.00,384.60 L328.20,384.60 L328.20,384.40 L329.40,384.40 L329.40,384.00 L330.60,384.00 L330.60,383.20 L331.80,383.20 L331.80,378.00 L333.00,378.00 L333.00,356.00 L334.20,356.00 L334.20,362.00 L334.90,362.00 L334.90,380.00 L335.90,380.00 L335.90,382.50 L337.00,382.50 L337.00,383.80 L338.10,383.80 L338.10,384.40 L339.20,384.40 L339.20,384.70 L340.30,384.70 L340.30,384.80 L341.50,384.80 L341.50,385.00Z " fill="#6680ad"/>
<path d="M454.44,386.40 L454.44,386.22 L455.18,386.22 L455.18,385.34 L455.92,385.34 L455.92,380.15 L456.66,380.15 L456.66,375.21 L457.40,375.21 L457.40,376.48 L458.14,376.48 L458.14,381.17 L458.88,381.17 L458.88,383.82 L459.62,383.82 L459.62,384.59 L460.36,384.59 L460.36,384.58 L461.10,384.58 L461.10,384.57 L461.84,384.57 L461.84,384.56 L462.58,384.56 L462.58,384.55 L463.32,384.55 L463.32,384.54 L464.06,384.54 L464.06,384.53 L464.80,384.53 L464.80,384.52 L465.54,384.52 L465.54,384.51 L466.28,384.51 L466.28,384.50 L467.02,384.50 L467.02,384.04 L467.76,384.04 L467.76,383.16 L468.50,383.16 L468.50,382.60 L469.24,382.60 L469.24,382.60 L469.98,382.60 L469.98,383.20 L470.72,383.20 L470.72,384.30 L471.46,384.30 L471.46,384.32 L472.20,384.32 L472.20,384.33 L472.94,384.33 L472.94,384.35 L473.68,384.35 L473.68,384.36 L474.42,384.36 L474.42,384.38 L475.16,384.38 L475.16,384.39 L475.90,384.39 L475.90,384.32 L476.64,384.32 L476.64,384.10 L477.38,384.10 L477.38,383.88 L478.12,383.88 L478.12,383.65 L478.86,383.65 L478.86,383.43 L479.60,383.43 L479.60,383.21 L480.34,383.21 L480.34,382.89 L481.08,382.89 L481.08,382.56 L481.82,382.56 L481.82,382.24 L482.56,382.24 L482.56,381.91 L483.30,381.91 L483.30,381.59 L484.04,381.59 L484.04,381.26 L484.78,381.26 L484.78,380.85 L485.52,380.85 L485.52,380.11 L486.26,380.11 L486.26,379.37 L487.00,379.37 L487.00,378.63 L487.74,378.63 L487.74,377.17 L488.48,377.17 L488.48,370.32 L489.22,370.32 L489.22,349.01 L489.96,349.01 L489.96,333.15 L490.70,333.15 L490.70,316.94 L491.44,316.94 L491.44,303.75 L492.18,303.75 L492.18,294.48 L492.92,294.48 L492.92,296.83 L493.66,296.83 L493.66,305.98 L494.40,305.98 L494.40,330.51 L495.14,330.51 L495.14,368.31 L495.88,368.31 L495.88,380.44 L496.62,380.44 L496.62,382.74 L497.36,382.74 L497.36,383.70 L498.10,383.70 L498.10,384.34 L498.84,384.34 L498.84,384.87 L499.58,384.87 L499.58,385.12 L500.32,385.12 L500.32,385.36 L501.06,385.36 L501.06,385.61 L501.80,385.61 L501.80,385.81 L502.54,385.81 L502.54,385.83 L503.28,385.83 L503.28,385.86 L504.02,385.86 L504.02,385.89 L504.76,385.89 L504.76,385.92 L505.50,385.92 L505.50,385.95 L506.24,385.95 L506.24,385.97 L506.98,385.97 L506.98,386.00 L507.72,386.00 L507.72,386.03 L508.46,386.03 L508.46,386.06 L509.20,386.06 L509.20,386.08 L509.94,386.08 L509.94,386.10 L510.68,386.10 L510.68,386.11 L511.42,386.11 L511.42,386.11 L512.16,386.11 L512.16,386.12 L512.90,386.12 L512.90,386.12 L513.64,386.12 L513.64,386.13 L514.38,386.13 L514.38,386.13 L515.12,386.13 L515.12,386.14 L515.86,386.14 L515.86,386.14 L516.60,386.14 L516.60,386.15 L517.34,386.15 L517.34,386.15 L518.08,386.15 L518.08,386.16 L518.82,386.16 L518.82,386.16 L519.56,386.16 L519.56,386.17 L520.30,386.17 L520.30,386.17 L521.04,386.17 L521.04,386.18 L521.78,386.18 L521.78,386.18 L522.52,386.18 L522.52,386.19 L523.26,386.19 L523.26,386.19 L524.00,386.19 L524.00,386.20 L524.74,386.20 L524.74,386.20 L525.48,386.20 L525.48,386.22 L526.22,386.22 L526.22,386.23 L526.96,386.23 L526.96,386.25 L527.70,386.25 L527.70,386.26 L528.44,386.26 L528.44,386.28 L529.18,386.28 L529.18,386.29 L529.92,386.29 L529.92,386.31 L530.66,386.31 L530.66,386.32 L531.40,386.32 L531.40,386.34 L532.14,386.34 L532.14,386.35 L532.88,386.35 L532.88,386.36 L533.62,386.36 L533.62,386.38 L534.36,386.38 L534.36,386.39 L535.10,386.39 L535.10,386.40Z " fill="#ea94a8"/>
<path d="M452.96,386.40 L452.96,386.22 L453.70,386.22 L453.70,385.18 L454.44,385.18 L454.44,384.19 L455.18,384.19 L455.18,382.31 L455.92,382.31 L455.92,377.66 L456.66,377.66 L456.66,378.17 L457.40,378.17 L457.40,379.85 L458.14,379.85 L458.14,383.16 L458.88,383.16 L458.88,384.24 L459.62,384.24 L459.62,384.64 L460.36,384.64 L460.36,384.70 L461.10,384.70 L461.10,384.76 L461.84,384.76 L461.84,384.66 L462.58,384.66 L462.58,384.18 L463.32,384.18 L463.32,383.70 L464.06,383.70 L464.06,383.51 L464.80,383.51 L464.80,383.54 L465.54,383.54 L465.54,383.56 L466.28,383.56 L466.28,383.59 L467.02,383.59 L467.02,383.69 L467.76,383.69 L467.76,383.86 L468.50,383.86 L468.50,384.04 L469.24,384.04 L469.24,384.21 L469.98,384.21 L469.98,384.22 L470.72,384.22 L470.72,384.06 L471.46,384.06 L471.46,383.90 L472.20,383.90 L472.20,383.74 L472.94,383.74 L472.94,383.58 L473.68,383.58 L473.68,383.30 L474.42,383.30 L474.42,382.88 L475.16,382.88 L475.16,382.45 L475.90,382.45 L475.90,382.03 L476.64,382.03 L476.64,381.48 L477.38,381.48 L477.38,380.87 L478.12,380.87 L478.12,380.26 L478.86,380.26 L478.86,379.14 L479.60,379.14 L479.60,377.66 L480.34,377.66 L480.34,375.10 L481.08,375.10 L481.08,370.28 L481.82,370.28 L481.82,364.64 L482.56,364.64 L482.56,356.07 L483.30,356.07 L483.30,344.17 L484.04,344.17 L484.04,329.87 L484.78,329.87 L484.78,315.90 L485.52,315.90 L485.52,306.39 L486.26,306.39 L486.26,300.45 L487.00,300.45 L487.00,311.55 L487.74,311.55 L487.74,338.18 L488.48,338.18 L488.48,369.44 L489.22,369.44 L489.22,380.27 L489.96,380.27 L489.96,382.49 L490.70,382.49 L490.70,383.68 L491.44,383.68 L491.44,384.57 L492.18,384.57 L492.18,385.00 L492.92,385.00 L492.92,385.27 L493.66,385.27 L493.66,385.54 L494.40,385.54 L494.40,385.82 L495.14,385.82 L495.14,385.97 L495.88,385.97 L495.88,386.07 L496.62,386.07 L496.62,386.17 L497.36,386.17 L497.36,386.26 L498.10,386.26 L498.10,386.30 L498.84,386.30 L498.84,386.30 L499.58,386.30 L499.58,386.30 L500.32,386.30 L500.32,386.30 L501.06,386.30 L501.06,386.30 L501.80,386.30 L501.80,386.30 L502.54,386.30 L502.54,386.30 L503.28,386.30 L503.28,386.30 L504.02,386.30 L504.02,386.30 L504.76,386.30 L504.76,386.30 L505.50,386.30 L505.50,386.30 L506.24,386.30 L506.24,386.30 L506.98,386.30 L506.98,386.30 L507.72,386.30 L507.72,386.30 L508.46,386.30 L508.46,386.30 L509.20,386.30 L509.20,386.30 L509.94,386.30 L509.94,386.30 L510.68,386.30 L510.68,386.30 L511.42,386.30 L511.42,386.30 L512.16,386.30 L512.16,386.30 L512.90,386.30 L512.90,386.30 L513.64,386.30 L513.64,386.30 L514.38,386.30 L514.38,386.30 L515.12,386.30 L515.12,386.30 L515.86,386.30 L515.86,386.30 L516.60,386.30 L516.60,386.30 L517.34,386.30 L517.34,386.30 L518.08,386.30 L518.08,386.30 L518.82,386.30 L518.82,386.30 L519.56,386.30 L519.56,386.30 L520.30,386.30 L520.30,386.30 L521.04,386.30 L521.04,386.30 L521.78,386.30 L521.78,386.30 L522.52,386.30 L522.52,386.30 L523.26,386.30 L523.26,386.30 L524.00,386.30 L524.00,386.30 L524.74,386.30 L524.74,386.30 L525.48,386.30 L525.48,386.30 L526.22,386.30 L526.22,386.30 L526.96,386.30 L526.96,386.30 L527.70,386.30 L527.70,386.30 L528.44,386.30 L528.44,386.30 L529.18,386.30 L529.18,386.30 L529.92,386.30 L529.92,386.30 L530.66,386.30 L530.66,386.30 L531.40,386.30 L531.40,386.30 L532.14,386.30 L532.14,386.30 L532.88,386.30 L532.88,386.30 L533.62,386.30 L533.62,386.30 L534.36,386.30 L534.36,386.30 L535.10,386.30 L535.10,386.40Z " fill="#63a9d5"/>
<path d="M454.44,386.40 L454.44,386.22 L455.18,386.22 L455.18,385.34 L455.92,385.34 L455.92,380.15 L456.66,380.15 L456.66,378.17 L457.40,378.17 L457.40,379.85 L458.14,379.85 L458.14,383.16 L458.88,383.16 L458.88,384.24 L459.62,384.24 L459.62,384.64 L460.36,384.64 L460.36,384.70 L461.10,384.70 L461.10,384.76 L461.84,384.76 L461.84,384.66 L462.58,384.66 L462.58,384.55 L463.32,384.55 L463.32,384.54 L464.06,384.54 L464.06,384.53 L464.80,384.53 L464.80,384.52 L465.54,384.52 L465.54,384.51 L466.28,384.51 L466.28,384.50 L467.02,384.50 L467.02,384.04 L467.76,384.04 L467.76,383.86 L468.50,383.86 L468.50,384.04 L469.24,384.04 L469.24,384.21 L469.98,384.21 L469.98,384.22 L470.72,384.22 L470.72,384.30 L471.46,384.30 L471.46,384.32 L472.20,384.32 L472.20,384.33 L472.94,384.33 L472.94,384.35 L473.68,384.35 L473.68,384.36 L474.42,384.36 L474.42,384.38 L475.16,384.38 L475.16,384.39 L475.90,384.39 L475.90,384.32 L476.64,384.32 L476.64,384.10 L477.38,384.10 L477.38,383.88 L478.12,383.88 L478.12,383.65 L478.86,383.65 L478.86,383.43 L479.60,383.43 L479.60,383.21 L480.34,383.21 L480.34,382.89 L481.08,382.89 L481.08,382.56 L481.82,382.56 L481.82,382.24 L482.56,382.24 L482.56,381.91 L483.30,381.91 L483.30,381.59 L484.04,381.59 L484.04,381.26 L484.78,381.26 L484.78,380.85 L485.52,380.85 L485.52,380.11 L486.26,380.11 L486.26,379.37 L487.00,379.37 L487.00,378.63 L487.74,378.63 L487.74,377.17 L488.48,377.17 L488.48,370.32 L489.22,370.32 L489.22,380.27 L489.96,380.27 L489.96,382.49 L490.70,382.49 L490.70,383.68 L491.44,383.68 L491.44,384.57 L492.18,384.57 L492.18,385.00 L492.92,385.00 L492.92,385.27 L493.66,385.27 L493.66,385.54 L494.40,385.54 L494.40,385.82 L495.14,385.82 L495.14,385.97 L495.88,385.97 L495.88,386.07 L496.62,386.07 L496.62,386.17 L497.36,386.17 L497.36,386.26 L498.10,386.26 L498.10,386.30 L498.84,386.30 L498.84,386.30 L499.58,386.30 L499.58,386.30 L500.32,386.30 L500.32,386.30 L501.06,386.30 L501.06,386.30 L501.80,386.30 L501.80,386.30 L502.54,386.30 L502.54,386.30 L503.28,386.30 L503.28,386.30 L504.02,386.30 L504.02,386.30 L504.76,386.30 L504.76,386.30 L505.50,386.30 L505.50,386.30 L506.24,386.30 L506.24,386.30 L506.98,386.30 L506.98,386.30 L507.72,386.30 L507.72,386.30 L508.46,386.30 L508.46,386.30 L509.20,386.30 L509.20,386.30 L509.94,386.30 L509.94,386.30 L510.68,386.30 L510.68,386.30 L511.42,386.30 L511.42,386.30 L512.16,386.30 L512.16,386.30 L512.90,386.30 L512.90,386.30 L513.64,386.30 L513.64,386.30 L514.38,386.30 L514.38,386.30 L515.12,386.30 L515.12,386.30 L515.86,386.30 L515.86,386.30 L516.60,386.30 L516.60,386.30 L517.34,386.30 L517.34,386.30 L518.08,386.30 L518.08,386.30 L518.82,386.30 L518.82,386.30 L519.56,386.30 L519.56,386.30 L520.30,386.30 L520.30,386.30 L521.04,386.30 L521.04,386.30 L521.78,386.30 L521.78,386.30 L522.52,386.30 L522.52,386.30 L523.26,386.30 L523.26,386.30 L524.00,386.30 L524.00,386.30 L524.74,386.30 L524.74,386.30 L525.48,386.30 L525.48,386.30 L526.22,386.30 L526.22,386.30 L526.96,386.30 L526.96,386.30 L527.70,386.30 L527.70,386.30 L528.44,386.30 L528.44,386.30 L529.18,386.30 L529.18,386.30 L529.92,386.30 L529.92,386.31 L530.66,386.31 L530.66,386.32 L531.40,386.32 L531.40,386.34 L532.14,386.34 L532.14,386.35 L532.88,386.35 L532.88,386.36 L533.62,386.36 L533.62,386.38 L534.36,386.38 L534.36,386.39 L535.10,386.39 L535.10,386.40Z " fill="#6680ad"/>
<path d="M598.10,385.40 L598.10,384.30 L599.40,384.30 L599.40,385.40Z M613.60,385.40 L613.60,384.60 L614.90,384.60 L614.90,385.40Z M630.40,385.40 L630.40,384.60 L631.60,384.60 L631.60,384.30 L632.90,384.30 L632.90,383.90 L634.20,383.90 L634.20,383.50 L635.50,383.50 L635.50,382.00 L636.70,382.00 L636.70,381.00 L638.00,381.00 L638.00,362.00 L639.20,362.00 L639.20,345.50 L640.40,345.50 L640.40,293.00 L641.80,293.00 L641.80,320.00 L643.20,320.00 L643.20,320.50 L644.40,320.50 L644.40,358.00 L645.60,358.00 L645.60,375.10 L646.90,375.10 L646.90,377.30 L648.20,377.30 L648.20,384.30 L649.50,384.30 L649.50,385.40Z " fill="#ea94a8"/>
<path d="M578.50,385.40 L578.50,384.30 L579.80,384.30 L579.80,385.40Z M580.80,385.40 L580.80,384.30 L582.10,384.30 L582.10,385.40Z M611.00,385.40 L611.00,384.30 L612.30,384.30 L612.30,385.40Z M613.60,385.40 L613.60,383.50 L614.90,383.50 L614.90,385.40Z M616.20,385.40 L616.20,383.50 L617.50,383.50 L617.50,385.40Z M618.80,385.40 L618.80,384.30 L620.10,384.30 L620.10,385.40Z M621.30,385.40 L621.30,384.30 L622.60,384.30 L622.60,385.40Z M624.00,385.40 L624.00,384.60 L625.20,384.60 L625.20,385.40Z M626.50,385.40 L626.50,384.00 L627.80,384.00 L627.80,383.30 L629.10,383.30 L629.10,382.60 L630.40,382.60 L630.40,382.00 L631.60,382.00 L631.60,381.20 L632.90,381.20 L632.90,379.10 L634.20,379.10 L634.20,375.10 L635.50,375.10 L635.50,370.30 L636.70,370.30 L636.70,364.60 L638.00,364.60 L638.00,316.00 L639.20,316.00 L639.20,338.00 L640.40,338.00 L640.40,345.00 L641.80,345.00 L641.80,319.80 L643.20,319.80 L643.20,358.00 L644.40,358.00 L644.40,375.00 L645.60,375.00 L645.60,384.00 L646.90,384.00 L646.90,384.60 L648.20,384.60 L648.20,385.40Z " fill="#63a9d5"/>
<path d="M613.60,385.40 L613.60,384.60 L614.90,384.60 L614.90,385.40Z M630.40,385.40 L630.40,384.60 L631.60,384.60 L631.60,384.30 L632.90,384.30 L632.90,383.90 L634.20,383.90 L634.20,383.50 L635.50,383.50 L635.50,382.00 L636.70,382.00 L636.70,381.00 L638.00,381.00 L638.00,362.00 L639.20,362.00 L639.20,345.50 L640.40,345.50 L640.40,345.00 L641.80,345.00 L641.80,320.00 L643.20,320.00 L643.20,358.00 L644.40,358.00 L644.40,375.00 L645.60,375.00 L645.60,384.00 L646.90,384.00 L646.90,384.60 L648.20,384.60 L648.20,385.40Z " fill="#6680ad"/>
</svg>
</body></html>
